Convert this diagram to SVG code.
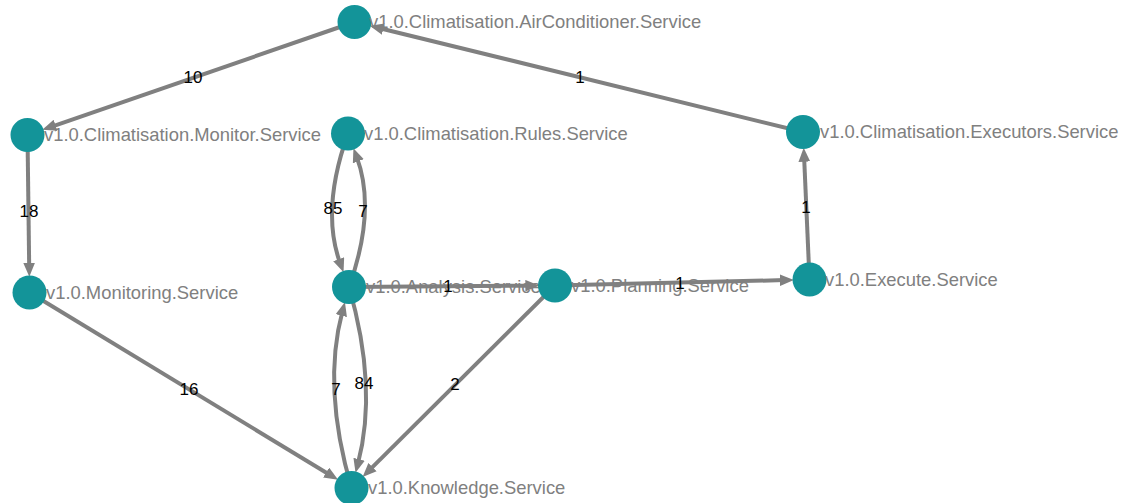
<svg xmlns="http://www.w3.org/2000/svg" width="1128" height="503" viewBox="0 0 1128 503">
<style>
.edge{fill:none;stroke:#808080;stroke-width:4;marker-end:url(#arr)}
.node circle{fill:#139499}
.node text{font-family:"Liberation Sans",Arial,sans-serif;font-size:18.4px;fill:#808080}
.elab{font-family:"Liberation Sans",Arial,sans-serif;font-size:17px;fill:#000;text-anchor:middle;dominant-baseline:central}
</style>
<defs>
<marker id="arr" markerUnits="userSpaceOnUse" markerWidth="14" markerHeight="12" refX="4" refY="5" orient="auto" viewBox="0 0 12 10">
<path d="M0,0 L12,5 L0,10 z" fill="#808080"/>
</marker>
</defs>
<rect width="1128" height="503" fill="#fff"/>
<g id="connectors">
<path class="edge" d="M354.5,22 L51.1,126.8"/>
<path class="edge" d="M803,132 L378.8,28"/>
<path class="edge" d="M27.5,135 L29.2,267.5"/>
<path class="edge" d="M809.5,279.5 L804.1,157"/>
<path class="edge" d="M349,287 L530,285.7"/>
<path class="edge" d="M555,285.5 L784.5,280.1"/>
<path class="edge" d="M29.5,292.5 L330.1,475"/>
<path class="edge" d="M555,285.5 L369.2,470.4"/>
<path class="edge" d="M348,133.5 Q320.5,210 340.3,263.6"/>
<path class="edge" d="M349,287 Q376.5,210 356.7,156.9"/>
<path class="edge" d="M351.5,488 Q322,387.5 342.5,311.1"/>
<path class="edge" d="M349,287 Q378,387.5 357.9,463.8"/>
</g>
<g id="node-airconditioner" class="node"><circle cx="354.5" cy="22" r="17"/><text x="369" y="28">v1.0.Climatisation.AirConditioner.Service</text></g>
<g id="node-monitor" class="node"><circle cx="27.5" cy="135" r="17"/><text x="44" y="141">v1.0.Climatisation.Monitor.Service</text></g>
<g id="node-rules" class="node"><circle cx="348" cy="133.5" r="17"/><text x="364" y="139.5">v1.0.Climatisation.Rules.Service</text></g>
<g id="node-executors" class="node"><circle cx="803" cy="132" r="17"/><text x="820" y="138">v1.0.Climatisation.Executors.Service</text></g>
<g id="node-analysis" class="node"><circle cx="349" cy="287" r="17"/><text x="366" y="293">v1.0.Analysis.Service</text></g>
<g id="node-planning" class="node"><circle cx="555" cy="285.5" r="17"/><text x="571" y="291.5">v1.0.Planning.Service</text></g>
<g id="node-execute" class="node"><circle cx="809.5" cy="279.5" r="17"/><text x="825" y="285.5">v1.0.Execute.Service</text></g>
<g id="node-monitoring" class="node"><circle cx="29.5" cy="292.5" r="17"/><text x="46" y="298.5">v1.0.Monitoring.Service</text></g>
<g id="node-knowledge" class="node"><circle cx="351.5" cy="488" r="17"/><text x="368" y="494">v1.0.Knowledge.Service</text></g>
<g id="edge-labels">
<text class="elab" x="193" y="77">10</text>
<text class="elab" x="580" y="77">1</text>
<text class="elab" x="29" y="211">18</text>
<text class="elab" x="333" y="208">85</text>
<text class="elab" x="363" y="211">7</text>
<text class="elab" x="448" y="286">1</text>
<text class="elab" x="680" y="283">1</text>
<text class="elab" x="806" y="207">1</text>
<text class="elab" x="189" y="389">16</text>
<text class="elab" x="455" y="384">2</text>
<text class="elab" x="336" y="389">7</text>
<text class="elab" x="364" y="383">84</text>
</g>
</svg>
